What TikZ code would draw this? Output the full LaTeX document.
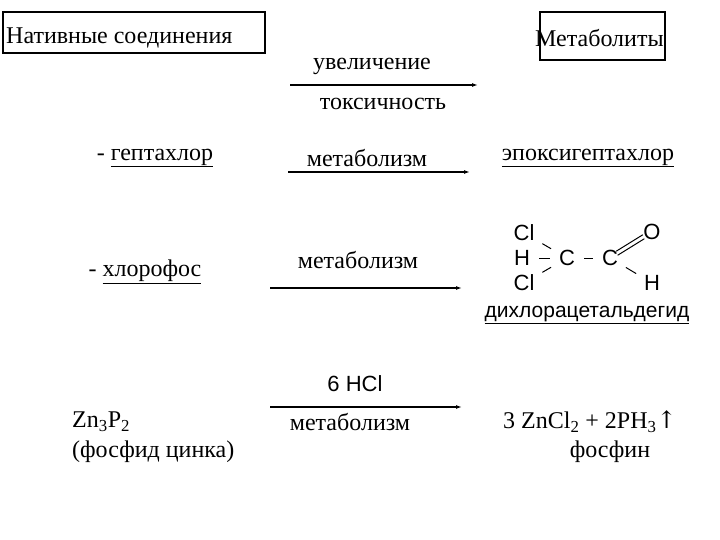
\documentclass[tikz,border=0pt]{standalone}
\usepackage{fontspec}
\usetikzlibrary{arrows.meta}
\setmainfont{Liberation Serif}
\newfontfamily\sansf{Liberation Sans}
\newfontfamily\djserif{DejaVu Serif}
\begin{document}
\begin{tikzpicture}[x=1pt,y=-1pt,
  t/.style={font=\fontsize{24}{26}\selectfont,inner sep=0pt},
  s/.style={font=\sansf\fontsize{22}{24}\selectfont,inner sep=0pt},
  a/.style={line width=1.6pt,-{Latex[length=6pt,width=4pt]}},
  bnd/.style={line width=1pt,shorten <=9pt,shorten >=9pt}]
\useasboundingbox (0,0) rectangle (720,540);
\draw[line width=1.3pt] (3,12) rectangle (265,53);
\draw[line width=1.3pt] (540,12) rectangle (665,60);
\node[t,anchor=west] (nat) at (6,38) {Нативные соединения};
\node[t,anchor=west] (met) at (535,38) {Метаболиты};
\node[t] (uv) at (372,66) {увеличение};
\node[t] (tox) at (383,104) {токсичность};
\coordinate (a1s) at (290,85); \coordinate (a1e) at (478,85);
\draw[a] (a1s) -- (a1e);
\node[t] (h1) at (155,158) {- \underline{гептахлор}};
\node[t] (m1) at (367,158) {метаболизм};
\coordinate (a2s) at (288,172); \coordinate (a2e) at (470,172);
\draw[a] (a2s) -- (a2e);
\node[t] (ep) at (588,158) {\underline{эпоксигептахлор}};
\node[t] (h2) at (145,272) {- \underline{хлорофос}};
\node[t] (m2) at (358,260) {метаболизм};
\coordinate (a3s) at (270,288); \coordinate (a3e) at (462,288);
\draw[a] (a3s) -- (a3e);
\node[s] (cl1) at (524,233) {Cl};
\node[s] (hh1) at (522,258) {H};
\node[s] (cl2) at (524,283) {Cl};
\node[s] (c1) at (567,258) {C};
\node[s] (c2) at (610,258) {C};
\node[s] (o) at (652,232) {O};
\node[s] (hh2) at (652,283) {H};
\draw[bnd] (cl1) -- (c1);
\draw[bnd] (cl2) -- (c1);
\draw[bnd] (hh1) -- (c1);
\draw[bnd] (c1) -- (c2);
\draw[bnd] ([yshift=-2pt]c2.center) -- ([yshift=-2pt]o.center);
\draw[bnd] ([xshift=-1.5pt,yshift=2pt]c2.center) -- ([xshift=-1.5pt,yshift=2pt]o.center);
\draw[bnd] (c2) -- (hh2);
\node[s,font=\sansf\fontsize{21}{23}\selectfont] (dca) at (587,315) {\underline{дихлорацетальдегид}};
\node[s] (hcl) at (355,384) {6 HCl};
\coordinate (a4s) at (270,407); \coordinate (a4e) at (462,407);
\draw[a] (a4s) -- (a4e);
\node[t] (m3) at (350,422) {метаболизм};
\node[t,anchor=west] (zn) at (72,422) {Zn\textsubscript{3}P\textsubscript{2}};
\node[t,anchor=west] (fz) at (72,452) {(фосфид цинка)};
\node[t,anchor=west] (pr) at (503,422) {3 ZnCl\textsubscript{2} + 2PH\textsubscript{3}{\djserif ↑}};
\node[t] (fo) at (610,452) {фосфин};
\end{tikzpicture}
\end{document}
